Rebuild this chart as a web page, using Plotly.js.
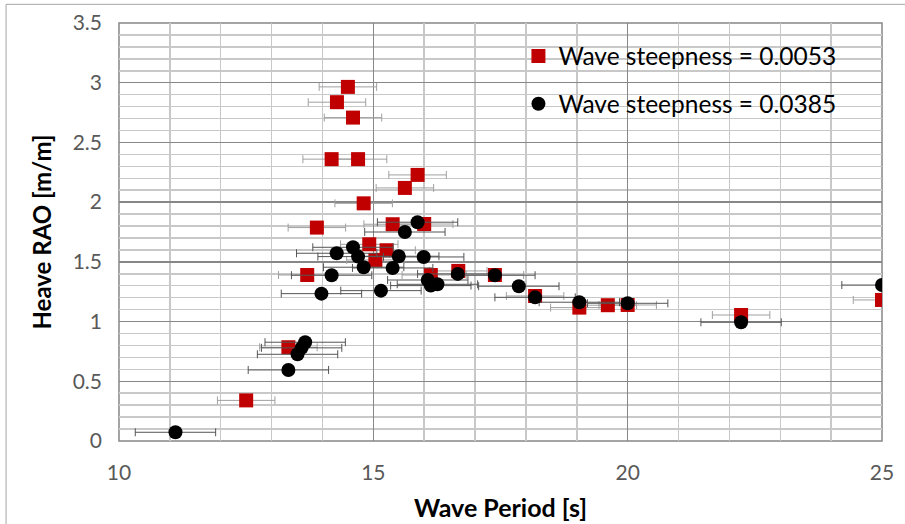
<!DOCTYPE html>
<html>
<head>
<meta charset="utf-8">
<script src="https://cdn.plot.ly/plotly-3.0.1.min.js"></script>
<style>html,body{margin:0;padding:0;background:#fff;}#chart{width:905px;height:524px;}</style>
</head>
<body>
<div id="chart"></div>
<script>
// Wave steepness = 0.0053 (red squares)
const periodLow = [12.50, 13.33, 13.70, 13.89, 14.18, 14.285, 14.50, 14.60, 14.70, 14.81, 14.92, 15.04, 15.26, 15.38, 15.62, 15.87, 16.00, 16.13, 16.67, 17.39, 18.18, 19.05, 19.61, 20.00, 22.23, 25.00];
const raoLow    = [0.34, 0.785, 1.39, 1.787, 2.36, 2.837, 2.965, 2.708, 2.36, 1.99, 1.647, 1.516, 1.597, 1.815, 2.119, 2.228, 1.817, 1.39, 1.424, 1.39, 1.214, 1.117, 1.137, 1.139, 1.055, 1.181];
// Wave steepness = 0.0385 (black circles)
const periodHigh = [11.11, 13.33, 13.51, 13.59, 13.66, 13.98, 14.18, 14.28, 14.60, 14.70, 14.81, 15.15, 15.38, 15.50, 15.62, 15.87, 15.99, 16.07, 16.13, 16.26, 16.66, 17.39, 17.86, 18.18, 19.05, 20.00, 22.23, 25.00];
const raoHigh    = [0.073, 0.595, 0.726, 0.78, 0.827, 1.234, 1.388, 1.572, 1.622, 1.544, 1.455, 1.259, 1.449, 1.547, 1.75, 1.832, 1.541, 1.348, 1.301, 1.312, 1.399, 1.388, 1.296, 1.203, 1.162, 1.153, 0.994, 1.306];
// horizontal uncertainty in wave period [s]
const periodErrLow = 0.565;
const periodErrHigh = 0.79;
const seriesNames = ['Wave steepness = 0.0053', 'Wave steepness = 0.0385'];

const font = 'Lato, "Liberation Sans", sans-serif';

const traces = [
  {
    x: periodLow, y: raoLow, type: 'scatter', mode: 'markers', name: seriesNames[0],
    legendgroup: 'a',
    marker: {symbol: 'square', size: 14, color: '#C00000'},
    error_x: {type: 'constant', value: periodErrLow, color: '#a0a0a0', thickness: 1, width: 4}
  },
  {
    x: periodHigh, y: raoHigh, type: 'scatter', mode: 'markers', name: seriesNames[1],
    legendgroup: 'b',
    marker: {symbol: 'circle', size: 14, color: '#000000'},
    error_x: {type: 'constant', value: periodErrHigh, color: '#555555', thickness: 1, width: 4}
  }
];

const layout = {
  width: 905, height: 524,
  margin: {l: 119, r: 23, t: 23, b: 83},
  paper_bgcolor: '#ffffff', plot_bgcolor: '#ffffff',
  font: {family: font, color: '#595959', size: 21},
  showlegend: true,
  legend: {
    x: 0.5235, y: 0.975, xanchor: 'left', yanchor: 'top',
    bgcolor: 'rgba(0,0,0,0)', font: {family: font, size: 24.5, color: '#000'},
    traceorder: 'grouped', tracegroupgap: 13
  },
  xaxis: {
    range: [10, 25], dtick: 5, tick0: 10,
    showgrid: true, gridcolor: '#878787', gridwidth: 1.5,
    minor: {dtick: 1, showgrid: true, gridcolor: '#c8c8c8', gridwidth: 1.5, ticks: ''},
    zeroline: false, showline: false, ticks: '',
    ticklabelstandoff: 17,
    tickfont: {family: font, size: 21, color: '#595959'},
    title: {text: 'Wave Period [s]', font: {family: font, size: 25, color: '#000', weight: 'bold'}, standoff: 16}
  },
  yaxis: {
    range: [0, 3.5], dtick: 0.5, tick0: 0,
    showgrid: true, gridcolor: '#878787', gridwidth: 1.5,
    minor: {dtick: 0.1, showgrid: true, gridcolor: '#c8c8c8', gridwidth: 1.5, ticks: ''},
    zeroline: false, showline: false, ticks: '',
    ticklabelstandoff: 16,
    tickfont: {family: font, size: 21, color: '#595959'},
    title: {text: 'Heave RAO [m/m]', font: {family: font, size: 24, color: '#000', weight: 'bold'}, standoff: 14}
  },
  shapes: [
    {type: 'rect', xref: 'paper', yref: 'paper', x0: -0.148, x1: 1.2, y0: -0.5, y1: 1.0447,
     line: {color: '#a6a6a6', width: 1}, layer: 'below'},
    {type: 'rect', xref: 'paper', yref: 'paper', x0: 0, x1: 1, y0: 0, y1: 1,
     line: {color: '#878787', width: 1.5}, layer: 'below'}
  ]
};

Plotly.newPlot('chart', traces, layout, {displayModeBar: false, staticPlot: true});
</script>
</body>
</html>
